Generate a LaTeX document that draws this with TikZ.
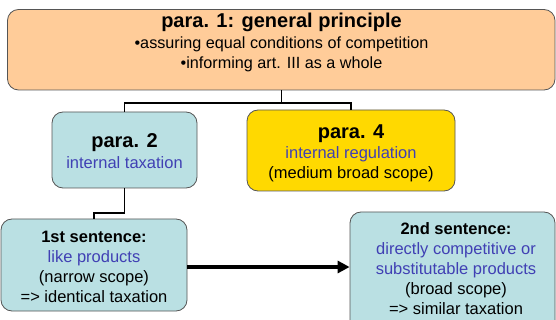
\documentclass[tikz,border=0pt]{standalone}
\usepackage{fontspec}
\setmainfont{Liberation Sans}
\usetikzlibrary{arrows.meta}
\definecolor{boxorange}{HTML}{FFCC99}
\definecolor{boxcyan}{HTML}{BAE0E3}
\definecolor{boxyellow}{HTML}{FFD900}
\definecolor{txtblue}{HTML}{4040B4}
\definecolor{edgegray}{HTML}{555555}
\tikzset{
  panel/.style={draw=edgegray, line width=0.8pt, rounded corners=11pt, inner sep=0pt, rectangle},
  label/.style={align=center, inner sep=0pt, font=\fontsize{16.5}{20}\selectfont},
  head/.style={font=\fontsize{20}{24}\selectfont\bfseries},
  link/.style={draw=black, line width=1.4pt},
  bigarrow/.style={draw=black, line width=4pt, -{Triangle[length=12pt,width=12pt]}}
}
\newcommand{\bl}[1]{\textcolor{txtblue}{#1}}
\begin{document}
\begin{tikzpicture}[x=1pt,y=-1pt]
\useasboundingbox (0,0) rectangle (556,320);
% boxes
\node[panel, fill=boxorange, minimum width=547.5pt, minimum height=80.5pt] (top) at (281.25,49.75) {};
\node[panel, fill=boxcyan, minimum width=145pt, minimum height=76pt] (p2) at (124.5,150) {};
\node[panel, fill=boxyellow, minimum width=208pt, minimum height=81pt] (p4) at (351,150.5) {};
\node[panel, fill=boxcyan, minimum width=186pt, minimum height=92pt] (s1) at (94,265) {};
\node[panel, fill=boxcyan, minimum width=205pt, minimum height=128pt] (s2) at (452.5,276) {};
% texts
\node[label] (toptext) at (281.5,42) {{\fontsize{20}{22}\selectfont\bfseries para. 1: general principle}\\[1pt]
  {\fontsize{16.2}{20}\selectfont •assuring equal conditions of competition}\\
  {\fontsize{16.2}{20}\selectfont •informing art. III as a whole}};
\node[label] (p2text) at (124.5,151.5) {{\fontsize{20}{22}\selectfont\bfseries para. 2}\\[1pt]\bl{internal taxation}};
\node[label] (p4text) at (351,153) {{\fontsize{20}{22}\selectfont\bfseries para. 4}\\\bl{internal regulation}\\(medium broad scope)};
\node[label] (s1text) at (94,267) {\textbf{1st sentence:}\\\bl{like products}\\(narrow scope)\\=> identical taxation};
\node[label] (s2text) at (456,269) {\textbf{2nd sentence:}\\\bl{directly competitive or}\\\bl{substitutable products}\\(broad scope)\\=> similar taxation};
% connectors
\coordinate (j1) at (281.25,103);
\draw[link] (top.south) -- (j1);
\draw[link] (j1) -| (p2.north);
\draw[link] (j1) -| (p4.north);
\coordinate (j2) at (124.5,213);
\draw[link] (p2.south) -- (j2) -| (s1.north);
\draw[bigarrow] (s1.east |- 0,267) -- (s2.west |- 0,267);
\end{tikzpicture}
\end{document}
